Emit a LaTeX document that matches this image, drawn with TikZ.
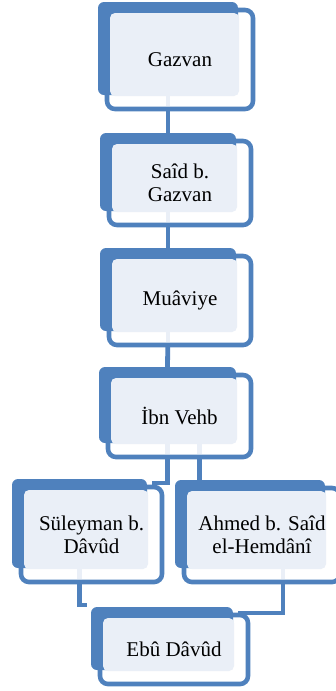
\documentclass[tikz,border=0pt]{standalone}
\usepackage{fontspec}
\setmainfont{Liberation Serif}
\usetikzlibrary{fit,backgrounds}
\definecolor{boxblue}{HTML}{4F81BD}
\definecolor{boxlight}{HTML}{EAEFF7}
\tikzset{
  backbox/.style={rectangle, rounded corners=6pt, fill=boxblue, inner sep=0pt, outer sep=0pt},
  framebox/.style={rectangle, rounded corners=8pt, draw=boxblue, line width=4.6pt, fill=white, inner sep=0pt, outer sep=0pt},
  facebox/.style={rectangle, rounded corners=5pt, fill=boxlight, inner sep=0pt, outer sep=0pt},
  nametext/.style={align=center, font=\fontsize{21}{23}\selectfont, inner sep=0pt},
  conn/.style={draw=boxblue, line width=4.8pt},
  stub/.style={draw=boxlight, line width=4.8pt, shorten >=2.8pt},
}
\newcommand\famBox[6]{% name, x1, y1, x2, y2, text
  \node[framebox, fit={(#2+9,#3+8)(#4+15,#5+14)}] (#1W) {};
  \node[backbox, fit={(#2,#3)(#4,#5)}] (#1B) {};
  \node[facebox, fit={(#2+12,#3+11)(#4+1,#5+1)}] (#1L) {};
  \node[nametext] (#1T) at (#1W.center) {#6};
}
\begin{document}
\begin{tikzpicture}[x=1pt,y=-1pt]
\useasboundingbox (0,0) rectangle (335,691);
\famBox{gaz}{98}{2}{238}{95}{Gazvan}
\famBox{said}{100}{133}{236}{211}{Saîd b.\\Gazvan}
\famBox{mua}{100}{248}{236}{331}{Muâviye}
\famBox{ibn}{99}{367}{236}{443}{İbn Vehb}
\famBox{sul}{12}{479}{147}{568}{Süleyman b.\\Dâvûd}
\famBox{ahm}{175}{480}{325}{568}{Ahmed b. Saîd\\el-Hemdânî}
\famBox{ebu}{91}{607}{233}{670}{Ebû Dâvûd}
\begin{pgfonlayer}{background}
\draw[conn] (gazB.south) -- (saidB.north);
\draw[conn] (saidB.south) -- (muaB.north);
\draw[conn] (muaB.south) -- (ibnB.north);
\draw[conn] (ibnB.south) |- ([xshift=5pt,yshift=-4pt]sulB.north east);
\draw[conn] ([xshift=32pt]ibnB.south) -- ([xshift=32pt]ibnB.south |- ahmB.north);
\draw[conn] (sulB.south) |- ([xshift=-4pt,yshift=2pt]ebuB.north west);
\draw[conn] ([xshift=33pt]ahmB.south) |- ([xshift=5pt,yshift=-6pt]ebuB.north east);
\end{pgfonlayer}
\draw[stub] (gazB.south) -- (gazB.south |- gazW.south);
\draw[stub] (saidB.south) -- (saidB.south |- saidW.south);
\draw[stub] (muaB.south) -- (muaB.south |- muaW.south);
\draw[stub] (ibnB.south) -- (ibnB.south |- ibnW.south);
\draw[stub] ([xshift=32pt]ibnB.south) -- ([xshift=32pt]ibnB.south |- ibnW.south);
\draw[stub] (sulB.south) -- (sulB.south |- sulW.south);
\draw[stub] ([xshift=33pt]ahmB.south) -- ([xshift=33pt]ahmB.south |- ahmW.south);
\end{tikzpicture}
\end{document}
